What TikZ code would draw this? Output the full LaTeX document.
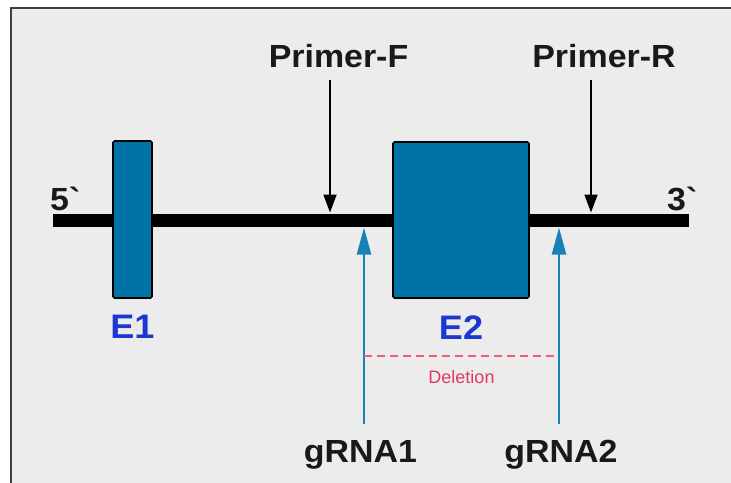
\documentclass[tikz,border=0pt]{standalone}
\usepackage{fontspec}
\setmainfont{Liberation Sans}
\newfontfamily\lblfont{Liberation Sans}[FakeStretch=1.06]
\usepackage{xcolor}
\usetikzlibrary{arrows.meta,positioning}
\definecolor{bggray}{RGB}{236,236,236}
\definecolor{framegray}{RGB}{64,64,64}
\definecolor{exonblue}{RGB}{0,115,166}
\definecolor{grnablue}{RGB}{22,130,182}
\definecolor{labelblue}{RGB}{28,56,210}
\definecolor{delred}{RGB}{240,96,116}
\definecolor{deltext}{RGB}{226,56,96}

\begin{document}
\begin{tikzpicture}[x=1pt, y=-1pt,
        exon/.style={draw=black, fill=exonblue, line width=1.6pt,
        rounded corners=1.5pt, inner sep=0pt},
        bigtext/.style={font=\lblfont\bfseries\fontsize{32}{36}\selectfont,
        text=black!90},
        elabel/.style={font=\lblfont\bfseries\fontsize{34}{38}\selectfont,
        text=labelblue},
        primer/.style={-{Triangle[length=18pt,width=13pt]}, line width=1.8pt},
        grna/.style={-{Triangle[length=27pt,width=14pt]}, draw=grnablue,
        line width=2.4pt},
        deletion/.style={draw=delred, dash pattern=on 8pt off 5pt,
        line width=1.2pt}]
        \useasboundingbox (0,0) rectangle (731,482);
        \clip (0,0) rectangle (731,482);
        \fill[white] (0,0) rectangle (731,482);
        \filldraw[fill=bggray, draw=framegray, line width=2.4pt] 
        (11,8) rectangle (745,495);
        % gene backbone
        \coordinate (five) at (53,220);
        \coordinate (three) at (689,220);
        \draw[line width=13pt] (five) -- (three);
        \node[bigtext, anchor=base west, inner sep=0pt] (p5) at (50,210) 
        {5\textasciigrave};
        \node[bigtext, anchor=base west, inner sep=0pt] (p3) at (667,210.5) 
        {3\textasciigrave};
        % exons
        \node[exon, minimum width=39pt, minimum height=157pt] (e1) 
        at (132.5,219.5) {};
        \node[exon, minimum width=136pt, minimum height=156pt] (e2) 
        at (461,220) {};
        \node[elabel, below=13pt of e1] (l1) {E1};
        \node[elabel, below=13pt of e2] (l2) {E2};
        % primers
        \node[bigtext, anchor=base] (pf) at (338.5,67.5) {Primer-F};
        \node[bigtext, anchor=base] (pr) at (604,67.5) {Primer-R};
        \coordinate (pftip) at (330,212.5);
        \coordinate (prtip) at (591,212.5);
        \draw[primer, shorten <=9pt] (pftip |- pf.south) -- (pftip);
        \draw[primer, shorten <=9pt] (prtip |- pr.south) -- (prtip);
        % guide RNAs
        \foreach \n/\x/\lx in {1/364/360.5, 2/559/561}
        {
        \coordinate (g\n tip) at (\x,227.5);
        \node[bigtext, anchor=base] (g\n) at (\lx,462) {gRNA\n};
        \draw[grna, shorten <=12pt] (g\n tip |- g\n.north) -- (g\n tip);
        }
        \draw[deletion] (g1tip |- 0,356) -- node[below=11pt, text=deltext, 
        font=\fontsize{18}{20}\selectfont] (del) {Deletion} (g2tip |- 0,356);
    \end{tikzpicture}
\end{document}
